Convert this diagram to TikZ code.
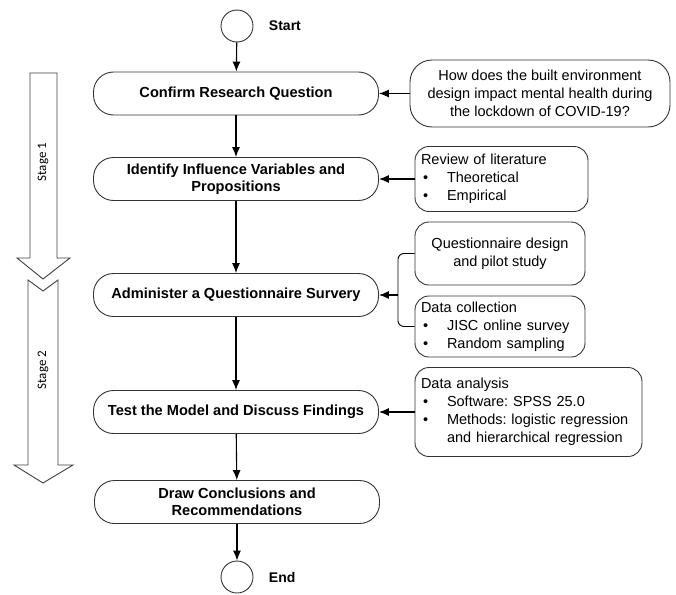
\documentclass[tikz,border=0pt]{standalone}
\usepackage{fontspec}
\setmainfont{Liberation Sans}
\newfontfamily\stagefont{Carlito}
\usetikzlibrary{positioning,arrows.meta}
\frenchspacing
\newcommand{\bitem}[1]{\hspace*{2pt}\makebox[24pt][l]{\textbullet}#1}
\begin{document}
\begin{tikzpicture}[x=1pt, y=-1pt,
	mainbox/.style={draw=black!80, line width=0.9pt, rounded corners=20pt, minimum width=285pt, minimum height=43pt, align=center, font=\bfseries\fontsize{14.6}{17}\selectfont},
	sidebox/.style={draw=black!80, line width=0.9pt, rounded corners=14pt, inner xsep=6pt, font=\fontsize{14.5}{18}\selectfont},
	endpt/.style={circle, draw=black!80, line width=0.9pt, minimum size=32pt, inner sep=0pt},
	arr/.style={-{Latex[length=10pt, width=8pt]}, line width=1.1pt},
	stagearrow/.style={draw=black!75, line width=0.9pt, fill=white}]
	\useasboundingbox (0,0) rectangle (676,594);
	% stage arrows
	\draw[stagearrow] (30,73) -- (57,73) -- (57,258) -- (70,258) -- (43,279) -- (17,258) -- (30,258) -- cycle;
	\draw[stagearrow] (28,280) -- (43,291) -- (58,280) -- (58,465) -- (73,465) -- (43,483) -- (14,465) -- (28,465) -- cycle;
	\node[rotate=90, font=\stagefont\fontsize{13}{15}\selectfont] (s1) at (43,162) {Stage 1};
	\node[rotate=90, font=\stagefont\fontsize{13}{15}\selectfont] (s2) at (43,370) {Stage 2};
	% main flow
	\node[endpt] (st) at (237,26) {};
	\node[right=12pt of st, font=\bfseries\fontsize{14}{16}\selectfont] (stl) {Start};
	\node[mainbox] (b1) at (236,93.5) {Confirm Research Question};
	\node[mainbox] (b2) at (236,179) {Identify Influence Variables and\\Propositions};
	\node[mainbox] (b3) at (236,295) {Administer a Questionnaire Survery};
	\node[mainbox] (b4) at (236,412) {Test the Model and Discuss Findings};
	\node[mainbox] (b5) at (237,502) {Draw Conclusions and\\Recommendations};
	\node[endpt] (en) at (237,577) {};
	\node[right=12pt of en, font=\bfseries\fontsize{14}{16}\selectfont] (enl) {End};
	\draw[arr] (st) -- (b1);
	\draw[arr] (b1) -- (b2);
	\draw[arr] (b2) -- (b3);
	\draw[arr] (b3) -- (b4);
	\draw[arr] (b4) -- (b5);
	\draw[arr] (b5) -- (en);
	% side boxes
	\node[sidebox, minimum width=260pt, minimum height=67pt, align=center, rounded corners=22pt] (q) at (540,93.5) {How does the built environment\\design impact mental health during\\the lockdown of COVID-19?};
	\node[sidebox, text width=161pt, minimum height=65pt, align=left] (rv) at (501.5,179) {Review of literature\\\bitem{Theoretical}\\\bitem{Empirical}};
	\node[sidebox, minimum width=170pt, minimum height=63pt, align=center] (qd) at (500,253.5) {Questionnaire design\\and pilot study};
	\node[sidebox, text width=158pt, minimum height=61pt, align=left] (dc) at (500,326.5) {Data collection\\\bitem{JISC online survey}\\\bitem{Random sampling}};
	\node[sidebox, text width=215pt, minimum height=89pt, align=left] (da) at (528.5,412) {Data analysis\\\bitem{Software: SPSS 25.0}\\\bitem{Methods: logistic regression}\\\hspace*{26pt}and hierarchical regression};
	\draw[arr] (q.west) -- (b1.east);
	\draw[arr] (rv.west) -- (b2.east);
	\coordinate (brk) at ([xshift=19pt]b3.east);
	\draw[line width=0.9pt, rounded corners=6pt] (qd.west) -| (brk) |- (dc.west);
	\draw[arr] (brk) -- (b3.east);
	\draw[arr] (da.west) -- (b4.east);
\end{tikzpicture}
\end{document}
